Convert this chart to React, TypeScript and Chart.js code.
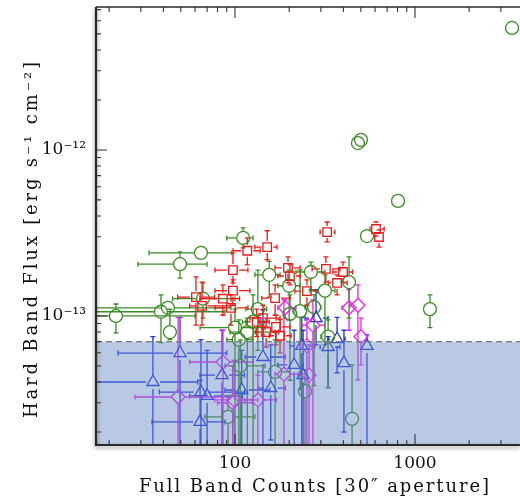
import { useEffect, useRef } from 'react';
import { Chart, registerables } from 'chart.js';

Chart.register(...registerables);

// ---- Data ----
const greenX = [3460, 482, 501, 805, 541, 1211, 111, 64.7, 49.5, 66.4, 42.4, 38.8, 43.5, 21.8, 100, 117, 105, 107, 167, 91.5, 245, 447, 155, 200, 134, 126, 202, 230, 264, 316, 430, 275, 329];
const greenY = [5.43e-12, 1.10e-12, 1.15e-12, 4.93e-13, 3.03e-13, 1.10e-13, 2.95e-13, 2.4e-13, 2.05e-13, 1.27e-13, 1.12e-13, 1.06e-13, 8.0e-14, 1.0e-13, 8.5e-14, 8.0e-14, 7.2e-14, 5.0e-14, 4.6e-14, 2.47e-14, 3.53e-14, 2.4e-14, 1.77e-13, 1.52e-13, 1.1e-13, 9.2e-14, 1.03e-13, 1.07e-13, 1.84e-13, 1.42e-13, 1.6e-13, 1.13e-13, 7.5e-14];
const greenXLo = [3460, 482, 501, 805, 541, 1211, 90, 33.3, 28.9, 45, 10, 10, 43.5, 10, 64, 94, 90, 88, 134, 68, 236, 447, 129, 173, 115, 110, 185, 210, 218, 261, 430, 245, 300];
const greenXHi = [3460, 482, 501, 805, 541, 1211, 126, 96, 69.9, 100, 95, 88, 43.5, 60, 147, 167, 125, 147, 202, 129, 261, 447, 178, 230, 150, 145, 220, 250, 316, 359, 430, 300, 345];
const greenYLo = [5.43e-12, 1.10e-12, 1.15e-12, 4.93e-13, 3.03e-13, 8.5e-14, 2.57e-13, 2.4e-13, 1.69e-13, 9.7e-14, 1.12e-13, 6.9e-14, 7.2e-14, 7.9e-14, 1e-14, 1e-14, 1e-14, 1e-14, 1e-14, 1e-14, 1e-14, 1e-14, 1.3e-13, 9.46e-14, 6.2e-14, 1e-14, 4.1e-14, 3.6e-14, 1.44e-13, 6.7e-14, 9.7e-14, 3.8e-14, 3.7e-14];
const greenYHi = [5.43e-12, 1.10e-12, 1.15e-12, 4.93e-13, 3.03e-13, 1.34e-13, 3.39e-13, 2.4e-13, 2.43e-13, 1.58e-13, 1.12e-13, 1.34e-13, 1.1e-13, 1.18e-13, 1.1e-13, 9.7e-14, 9.46e-14, 7.17e-14, 7.17e-14, 3.3e-14, 4.73e-14, 5.07e-14, 2.13e-13, 1.89e-13, 1.89e-13, 1.34e-13, 1.34e-13, 1.89e-13, 2.11e-13, 1.77e-13, 2.27e-13, 1.34e-13, 9.46e-14];

const redX = [117, 151, 97.4, 197, 202, 97.4, 85.7, 95, 251, 167, 143, 169, 60.7, 65.6, 325, 607, 631, 320, 398, 369, 132, 149, 178];
const redY = [2.47e-13, 2.6e-13, 1.89e-13, 1.95e-13, 1.74e-13, 1.42e-13, 1.27e-13, 1.12e-13, 1.41e-13, 1.28e-13, 9.7e-14, 8.6e-14, 1.3e-13, 1.15e-13, 3.2e-13, 3.34e-13, 2.99e-13, 1.92e-13, 1.84e-13, 1.58e-13, 9.2e-14, 8.0e-14, 7.6e-14];
const redXLo = [97.5, 129, 77.4, 167, 173, 77.4, 63.9, 77.4, 215, 141, 121, 141, 48, 56, 297, 562, 600, 268, 350, 330, 115, 130, 155];
const redXHi = [138, 171, 118, 230, 230, 121, 106, 118, 289, 202, 178, 202, 77, 93.8, 359, 674, 660, 383, 450, 420, 155, 175, 205];
const redYLo = [2.03e-13, 2.18e-13, 1.58e-13, 1.58e-13, 1.54e-13, 1.16e-13, 1.01e-13, 8.8e-14, 1.16e-13, 1.01e-13, 7.7e-14, 6.7e-14, 8.8e-14, 8.8e-14, 2.79e-13, 3.03e-13, 2.6e-13, 1.6e-13, 1.6e-13, 1.34e-13, 7.5e-14, 6.5e-14, 6.0e-14];
const redYHi = [2.95e-13, 3.26e-13, 2.39e-13, 2.27e-13, 2.03e-13, 1.65e-13, 1.54e-13, 1.34e-13, 1.65e-13, 1.54e-13, 1.16e-13, 1.01e-13, 1.72e-13, 1.6e-13, 3.68e-13, 3.68e-13, 3.3e-13, 2.27e-13, 2.11e-13, 1.77e-13, 1.1e-13, 9.7e-14, 9.5e-14];

const blueX = [35, 49.5, 64.7, 70, 64, 84.7, 109, 143, 158, 213, 235, 329, 369, 403, 541, 239, 282];
const blueY = [4.0e-14, 5.98e-14, 3.48e-14, 3.3e-14, 2.3e-14, 4.4e-14, 3.58e-14, 5.66e-14, 3.68e-14, 5.07e-14, 6.6e-14, 6.5e-14, 7.26e-14, 5.2e-14, 6.6e-14, 4.4e-14, 9.7e-14];
const blueXLo = [10, 22.4, 38, 56, 34.6, 63.9, 88, 114, 134, 173, 202, 297, 329, 403, 541, 239, 245];
const blueXHi = [62, 90, 113, 110, 88, 113, 156, 190, 190, 239, 278, 383, 409, 403, 541, 239, 329];
const blueYLo = [1e-14, 1e-14, 1e-14, 1e-14, 1e-14, 1e-14, 1e-14, 1e-14, 1.79e-14, 1e-14, 1e-14, 3.7e-14, 4.55e-14, 2.0e-14, 1e-14, 1e-14, 6.7e-14];
const blueYHi = [7.5e-14, 9.8e-14, 7.2e-14, 6.2e-14, 4.1e-14, 8.2e-14, 6.2e-14, 1.09e-13, 6.7e-14, 8.2e-14, 9.8e-14, 7.5e-14, 9.8e-14, 8.2e-14, 7.7e-14, 8.2e-14, 1.44e-13];

const magX = [48.3, 85.8, 98.7, 97, 134, 187, 190, 430, 482, 501, 271, 251, 258];
const magY = [3.25e-14, 5.28e-14, 3.12e-14, 3.0e-14, 3.12e-14, 4.46e-14, 1.12e-13, 1.12e-13, 1.16e-13, 7.5e-14, 8.8e-14, 6.6e-14, 4.4e-14];
const magXLo = [27.8, 56, 77, 80, 113, 167, 173, 393, 436, 501, 236, 251, 258];
const magXHi = [93.8, 126, 134, 125, 170, 224, 218, 470, 527, 501, 316, 251, 258];
const magYLo = [1e-14, 1e-14, 1e-14, 1e-14, 1e-14, 1e-14, 9.7e-14, 8.2e-14, 4.12e-14, 5.07e-14, 1e-14, 1e-14, 1e-14];
const magYHi = [9.8e-14, 8.2e-14, 5.4e-14, 5e-14, 4.4e-14, 1.25e-13, 1.25e-13, 1.44e-13, 1.54e-13, 9.7e-14, 1.25e-13, 9.5e-14, 6.7e-14];

const SHADE_LIMIT = 7.0e-14;
const X_MIN = 16.9;
const X_MAX = 3831;
const Y_MIN = 1.67e-14;
const Y_MAX = 7.26e-12;
const X_MAJOR = [100, 1000];
const X_MINOR = [20, 30, 40, 50, 60, 70, 80, 90, 200, 300, 400, 500, 600, 700, 800, 900, 2000, 3000];
const Y_MAJOR = [1e-13, 1e-12];
const Y_MINOR = [2e-14, 3e-14, 4e-14, 5e-14, 6e-14, 7e-14, 8e-14, 9e-14, 2e-13, 3e-13, 4e-13, 5e-13, 6e-13, 7e-13, 8e-13, 9e-13, 2e-12, 3e-12, 4e-12, 5e-12, 6e-12, 7e-12];

const X_TITLE = 'Full Band Counts [30\u2033 aperture]';
const Y_TITLE = 'Hard Band Flux [erg s\u207B\u00B9 cm\u207B\u00B2]';

const FONT = "'DejaVu Serif', serif";

const SUP: Record<string, string> = { '-': '\u207B', '0': '\u2070', '1': '\u00B9', '2': '\u00B2', '3': '\u00B3', '4': '\u2074', '5': '\u2075', '6': '\u2076', '7': '\u2077', '8': '\u2078', '9': '\u2079' };

function makeSeries(label: string, color: string, style: string, radius: number, xs: number[], ys: number[], xlo: number[], xhi: number[], ylo: number[], yhi: number[]) {
  return {
    label,
    data: xs.map((x, i) => ({ x, y: ys[i] })),
    errors: { xlo, xhi, ylo, yhi },
    pointStyle: style,
    pointRadius: radius,
    pointHoverRadius: radius,
    pointBorderColor: color,
    pointBackgroundColor: 'rgba(0,0,0,0)',
    pointBorderWidth: 1.3,
    borderColor: color,
    showLine: false,
  };
}

const errorBarPlugin = {
  id: 'errorBars',
  beforeDatasetsDraw(chart: any) {
    const { ctx, chartArea: a, scales } = chart;
    const xs = scales.x, ys = scales.y;
    ctx.save();
    ctx.beginPath();
    ctx.rect(a.left, a.top, a.right - a.left, a.bottom - a.top);
    ctx.clip();
    const dsList = chart.data.datasets;
    for (let d = dsList.length - 1; d >= 0; d--) {
      const ds = dsList[d];
      const e = ds.errors;
      if (!e) continue;
      const r = ds.pointRadius;
      ctx.strokeStyle = ds.borderColor;
      ctx.lineWidth = 1.3;
      const cap = 2.5;
      ds.data.forEach((p: any, j: number) => {
        const px = xs.getPixelForValue(p.x);
        const py = ys.getPixelForValue(p.y);
        const x0 = xs.getPixelForValue(e.xlo[j]);
        const x1 = xs.getPixelForValue(e.xhi[j]);
        const y0 = ys.getPixelForValue(e.ylo[j]);
        const y1 = ys.getPixelForValue(e.yhi[j]);
        ctx.beginPath();
        if (px - x0 > r) { ctx.moveTo(x0, py); ctx.lineTo(px - r, py); ctx.moveTo(x0, py - cap); ctx.lineTo(x0, py + cap); }
        if (x1 - px > r) { ctx.moveTo(px + r, py); ctx.lineTo(x1, py); ctx.moveTo(x1, py - cap); ctx.lineTo(x1, py + cap); }
        if (y0 - py > r) { ctx.moveTo(px, py + r); ctx.lineTo(px, y0); ctx.moveTo(px - cap, y0); ctx.lineTo(px + cap, y0); }
        if (py - y1 > r) { ctx.moveTo(px, py - r); ctx.lineTo(px, y1); ctx.moveTo(px - cap, y1); ctx.lineTo(px + cap, y1); }
        ctx.stroke();
      });
    }
    ctx.restore();
  },
};

const shadePlugin = {
  id: 'shade',
  afterDatasetsDraw(chart: any) {
    const { ctx, chartArea: a, scales } = chart;
    const yT = scales.y.getPixelForValue(SHADE_LIMIT);
    ctx.save();
    ctx.fillStyle = 'rgba(100,135,195,0.45)';
    ctx.fillRect(a.left, yT, a.right - a.left, a.bottom - yT);
    ctx.strokeStyle = '#7a7a7a';
    ctx.lineWidth = 1.2;
    ctx.setLineDash([6, 4]);
    ctx.beginPath();
    ctx.moveTo(a.left, yT);
    ctx.lineTo(a.right, yT);
    ctx.stroke();
    ctx.restore();
  },
};

function drawSpacedText(ctx: any, text: string, cx: number, cy: number, target: number, rotate: boolean) {
  ctx.save();
  ctx.font = `18px ${FONT}`;
  ctx.fillStyle = '#111';
  ctx.textAlign = 'center';
  ctx.textBaseline = 'middle';
  const w = ctx.measureText(text).width;
  const n = Array.from(text).length;
  const sp = Math.max(0, (target - w) / Math.max(1, n - 1));
  ctx.letterSpacing = `${sp.toFixed(2)}px`;
  ctx.translate(cx, cy);
  if (rotate) ctx.rotate(-Math.PI / 2);
  ctx.fillText(text, sp / 2, 0);
  ctx.restore();
}

const framePlugin = {
  id: 'frame',
  afterDraw(chart: any) {
    const { ctx, chartArea: a, scales } = chart;
    const xs = scales.x, ys = scales.y;
    ctx.save();
    ctx.strokeStyle = '#2a2a2a';
    ctx.lineWidth = 2.2;
    ctx.shadowColor = 'rgba(0,0,0,0.45)';
    ctx.shadowBlur = 4;
    ctx.shadowOffsetY = 2;
    ctx.beginPath();
    ctx.moveTo(a.left, a.top);
    ctx.lineTo(a.left, a.bottom);
    ctx.lineTo(a.right, a.bottom);
    ctx.stroke();
    ctx.shadowColor = 'rgba(0,0,0,0)';
    ctx.lineWidth = 1.3;
    ctx.beginPath();
    ctx.moveTo(a.left, a.top);
    ctx.lineTo(a.right, a.top);
    ctx.stroke();
    ctx.lineWidth = 1.1;
    ctx.strokeStyle = '#333';
    ctx.beginPath();
    const xt = (v: number, len: number) => {
      const p = xs.getPixelForValue(v);
      ctx.moveTo(p, a.bottom); ctx.lineTo(p, a.bottom - len);
      ctx.moveTo(p, a.top); ctx.lineTo(p, a.top + len);
    };
    const yt = (v: number, len: number) => {
      const p = ys.getPixelForValue(v);
      ctx.moveTo(a.left, p); ctx.lineTo(a.left + len, p);
    };
    X_MAJOR.forEach((v) => xt(v, 11));
    X_MINOR.forEach((v) => xt(v, 5));
    Y_MAJOR.forEach((v) => yt(v, 11));
    Y_MINOR.forEach((v) => yt(v, 5));
    ctx.stroke();
    ctx.restore();
    // axis titles
    drawSpacedText(ctx, X_TITLE, 314, 487, 350, false);
    drawSpacedText(ctx, Y_TITLE, 32, 240, 356, true);
  },
};

function powLabel(v: number): string {
  const l = Math.log10(v);
  const n = Math.round(l);
  if (Math.abs(l - n) > 1e-6) return '';
  return '10' + String(n).split('').map((c) => SUP[c] || c).join('');
}

const zeroPad = () => ({ left: 0, right: 0, top: 0, bottom: 0 });

export default function App() {
  const ref = useRef<HTMLCanvasElement | null>(null);
  useEffect(() => {
    document.body.style.margin = '0';
    if (!ref.current) return;
    const chart = new Chart(ref.current, {
      type: 'scatter',
      data: {
        datasets: [
          makeSeries('Hard detected (red)', '#f01818', 'rect', 6, redX, redY, redXLo, redXHi, redYLo, redYHi),
          makeSeries('Green', '#3a8c24', 'circle', 6.5, greenX, greenY, greenXLo, greenXHi, greenYLo, greenYHi),
          makeSeries('Magenta', '#f020f0', 'rectRot', 7, magX, magY, magXLo, magXHi, magYLo, magYHi),
          makeSeries('Blue', '#1c32e6', 'triangle', 7, blueX, blueY, blueXLo, blueXHi, blueYLo, blueYHi),
        ] as any,
      },
      options: {
        animation: false,
        responsive: false,
        events: [],
        layout: { autoPadding: false, padding: { top: 7, right: 0, left: 0, bottom: 0 } },
        plugins: { legend: { display: false }, tooltip: { enabled: false } },
        scales: {
          x: {
            type: 'logarithmic',
            min: X_MIN,
            max: X_MAX,
            grid: { display: false, drawTicks: false },
            border: { display: false },
            afterFit: (s: any) => { s.height = 54; s.paddingLeft = 0; s.paddingRight = 0; s.getPadding = zeroPad; },
            ticks: {
              autoSkip: false,
              maxRotation: 0,
              padding: 8,
              color: '#111',
              font: { family: FONT, size: 17 },
              callback: (v: any) => { const n = Number(v); return X_MAJOR.some((m) => Math.abs(m - n) / m < 1e-6) ? String(Math.round(n)) : ''; },
            },
            title: { display: false },
          },
          y: {
            type: 'logarithmic',
            min: Y_MIN,
            max: Y_MAX,
            grid: { display: false, drawTicks: false },
            border: { display: false },
            afterFit: (s: any) => { s.width = 96; s.paddingTop = 0; s.paddingBottom = 0; s.getPadding = zeroPad; },
            ticks: {
              autoSkip: false,
              padding: 10,
              color: '#111',
              font: { family: FONT, size: 17 },
              callback: (v: any) => powLabel(Number(v)),
            },
            title: { display: false },
          },
        },
      },
      plugins: [errorBarPlugin, shadePlugin, framePlugin],
    } as any);
    return () => chart.destroy();
  }, []);
  return (
    <div style={{ position: 'absolute', left: 0, top: 0, width: 520, height: 499 }}>
      <canvas ref={ref} width={520} height={499} style={{ width: 520, height: 499, display: 'block' }} />
    </div>
  );
}
